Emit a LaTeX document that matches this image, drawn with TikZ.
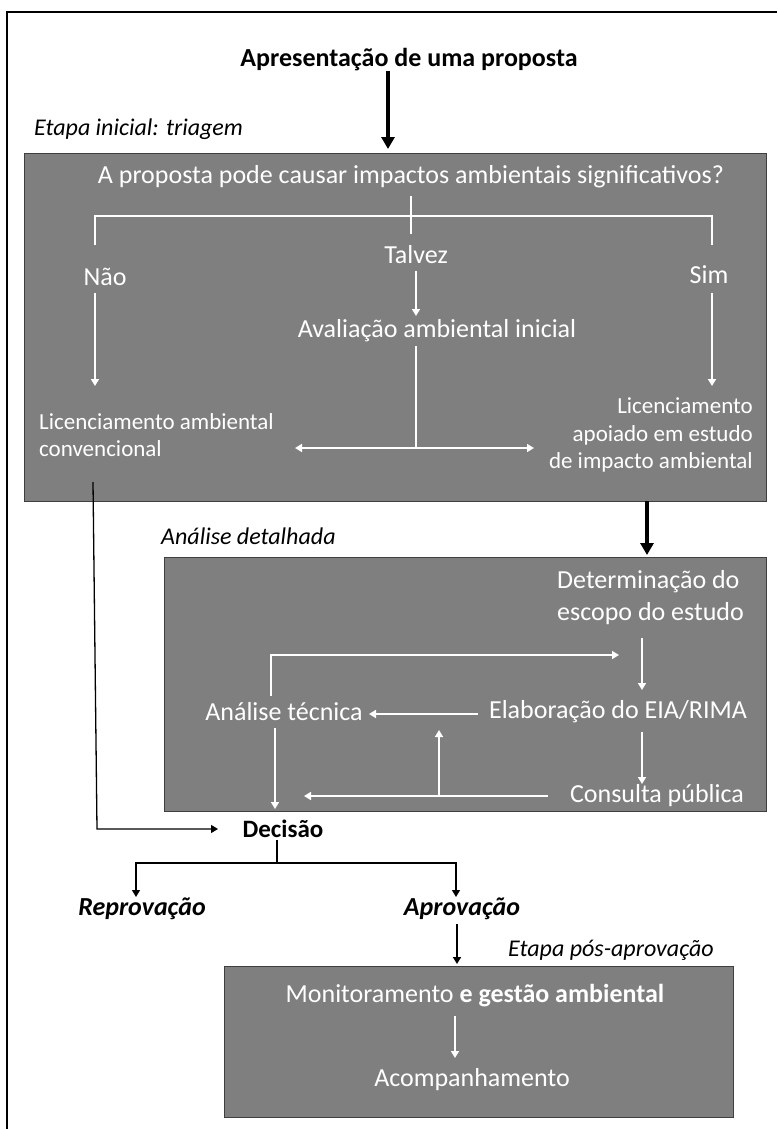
\documentclass[tikz,border=0pt]{standalone}
\usepackage{fontspec}
\setmainfont{Carlito}
\usetikzlibrary{arrows.meta,positioning}

\definecolor{boxfill}{HTML}{7F7F7F}
\definecolor{boxline}{HTML}{3F3F3F}

\tikzset{
  stagebox/.style={draw=boxline, fill=boxfill, line width=1.2pt, anchor=north west, inner sep=0pt},
  wtext/.style={text=white, inner sep=0pt, font=\fontsize{26}{32}\selectfont},
  wsmall/.style={text=white, inner sep=0pt, font=\fontsize{23}{27.5}\selectfont},
  btext/.style={inner sep=0pt, font=\fontsize{26}{30}\selectfont\bfseries},
  bitext/.style={inner sep=0pt, font=\fontsize{26}{30}\selectfont\bfseries\itshape},
  stagetext/.style={inner sep=0pt, font=\fontsize{24}{28}\selectfont\itshape},
  wline/.style={draw=white, line width=1.6pt},
  warrow/.style={wline, -{Triangle[width=8pt,length=7pt]}},
  bigarrow/.style={draw=black, line width=3.5pt, -{Triangle[width=13pt,length=12pt]}},
  thinarrow/.style={draw=black, line width=1.3pt, -{Triangle[width=8pt,length=7pt]}}
}

\begin{document}
\begin{tikzpicture}[x=1pt, y=-1pt]
\useasboundingbox (0,0) rectangle (777,1129);

% frame
\draw [line width=1.3pt] (7,1129) -- (7,12) -- (777,12);

% boxes
\node [stagebox, minimum width=742pt, minimum height=348pt] (triagem) at (24,153) {};
\node [stagebox, minimum width=602pt, minimum height=254pt] (detalhe) at (164,557) {};
\node [stagebox, minimum width=509pt, minimum height=151pt] (posbox) at (224,966) {};

% texts
\node [btext] (proposta) at (409,60) {Apresentação de uma proposta};
\node [stagetext, anchor=west] (triagemlbl) at (34,129) {Etapa inicial: triagem};
\node [wtext] (pergunta) at (411,177) {A proposta pode causar impactos ambientais significativos?};
\node [wtext] (nao) at (105,277) {Não};
\node [wtext] (talvez) at (416,255) {Talvez};
\node [wtext] (sim) at (709,275) {Sim};
\node [wtext] (avaliacao) at (437,331) {Avaliação ambiental inicial};
\node [wsmall, anchor=west, align=left] (convencional) at (39,435) {Licenciamento ambiental\\convencional};
\node [wsmall, anchor=east, align=right] (eia) at (753,435) {Licenciamento\\apoiado em estudo\\de impacto ambiental};

\node [stagetext, anchor=west] (detalhelbl) at (161,536) {Análise detalhada};
\node [wtext, anchor=west, align=left] (escopo) at (557,598) {Determinação do\\escopo do estudo};
\node [wtext] (tecnica) at (284,712) {Análise técnica};
\node [wtext] (elaboracao) at (618,712) {Elaboração do EIA/RIMA};
\node [wtext] (consulta) at (657,796) {Consulta pública};

\node [btext, font=\fontsize{25}{30}\selectfont\bfseries] (decisao) at (283,829) {Decisão};
\node [bitext] (reprovacao) at (142,909) {Reprovação};
\node [bitext] (aprovacao) at (462,909) {Aprovação};
\node [stagetext] (posaprov) at (611,950) {Etapa pós-aprovação};
\node [wtext] (monitor) at (475,996) {Monitoramento \textbf{e gestão ambiental}};
\node [wtext] (acomp) at (472,1080) {Acompanhamento};

% connector points
\coordinate (ap_a) at (388,71);
\coordinate (ap_b) at (388,149);
\coordinate (q_a) at (411,196);
\coordinate (q_b) at (411,234);
\coordinate (q_l) at (95,216);
\coordinate (q_r) at (712,216);
\coordinate (nao_a) at (95,245);
\coordinate (sim_a) at (712,245);
\coordinate (nao_b) at (95,293);
\coordinate (nao_c) at (95,386);
\coordinate (sim_b) at (712,293);
\coordinate (sim_c) at (712,386);
\coordinate (tal_a) at (416,271);
\coordinate (tal_b) at (416,316);
\coordinate (av_a) at (416,346);
\coordinate (av_b) at (416,448);
\coordinate (av_l) at (295,448);
\coordinate (av_r) at (534,448);
\coordinate (conv_a) at (93,482);
\coordinate (conv_b) at (97,829);
\coordinate (dec_in) at (218,829);
\coordinate (eia_a) at (647,501);
\coordinate (eia_b) at (647,555);

\coordinate (esc_a) at (642,638);
\coordinate (esc_b) at (642,690);
\coordinate (tec_a) at (271,696);
\coordinate (tec_b) at (271,655);
\coordinate (tec_c) at (619,655);
\coordinate (ela_a) at (478,714);
\coordinate (ela_b) at (369,714);
\coordinate (tec_d) at (275,728);
\coordinate (tec_e) at (275,809);
\coordinate (ela_c) at (642,732);
\coordinate (ela_d) at (642,784);
\coordinate (con_a) at (548,796);
\coordinate (con_b) at (304,796);
\coordinate (con_c) at (439,796);
\coordinate (con_d) at (439,730);

\coordinate (dec_a) at (277,840);
\coordinate (dec_b) at (277,863);
\coordinate (rep_a) at (136,863);
\coordinate (rep_b) at (136,897);
\coordinate (apr_a) at (456,863);
\coordinate (apr_b) at (456,897);
\coordinate (apr_c) at (457,924);
\coordinate (apr_d) at (457,964);
\coordinate (mon_a) at (455,1016);
\coordinate (mon_b) at (455,1058);

% first stage
\draw [bigarrow] (ap_a) -- (ap_b);
\draw [wline] (q_a) -- (q_b);
\draw [wline] (nao_a) -- (q_l) -- (q_r) -- (sim_a);
\draw [warrow] (nao_b) -- (nao_c);
\draw [warrow] (sim_b) -- (sim_c);
\draw [warrow] (tal_a) -- (tal_b);
\draw [wline] (av_a) -- (av_b);
\draw [wline, {Triangle[width=8pt,length=7pt]}-{Triangle[width=8pt,length=7pt]}] (av_l) -- (av_r);
\draw [thinarrow] (conv_a) -- (conv_b) -- (dec_in);
\draw [bigarrow] (eia_a) -- (eia_b);

% detailed analysis
\draw [warrow] (esc_a) -- (esc_b);
\draw [warrow] (tec_a) -- (tec_b) -- (tec_c);
\draw [warrow] (ela_a) -- (ela_b);
\draw [warrow] (tec_d) -- (tec_e);
\draw [warrow] (ela_c) -- (ela_d);
\draw [warrow] (con_a) -- (con_b);
\draw [warrow] (con_c) -- (con_d);

% decision
\draw [draw=black, line width=1.3pt] (dec_a) -- (dec_b);
\draw [thinarrow] (dec_b) -- (rep_a) -- (rep_b);
\draw [thinarrow] (dec_b) -- (apr_a) -- (apr_b);
\draw [thinarrow, line width=2pt] (apr_c) -- (apr_d);
\draw [warrow] (mon_a) -- (mon_b);
\end{tikzpicture}
\end{document}
